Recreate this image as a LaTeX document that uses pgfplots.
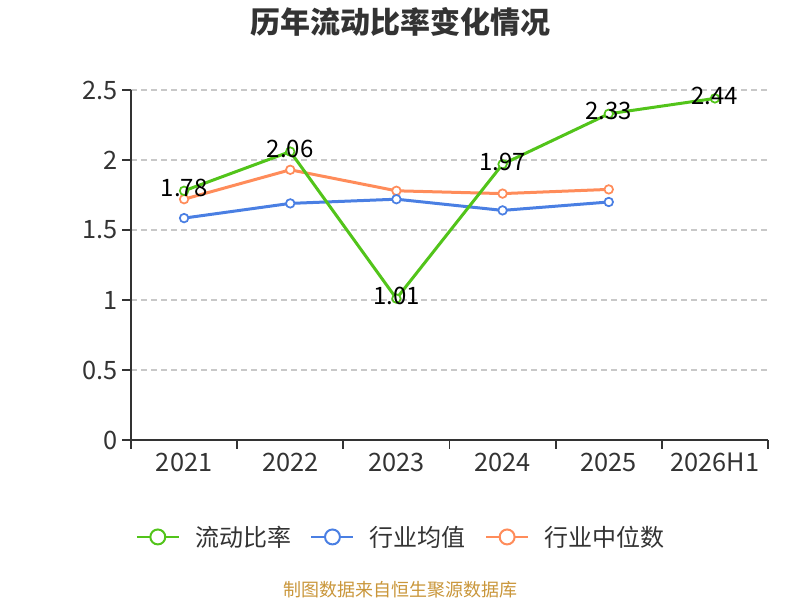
\documentclass[border=0pt]{standalone}
\usepackage{pgfplots}
\pgfplotsset{compat=1.18}
\usepackage{fontspec}
\setmainfont{Noto Sans CJK SC}
\definecolor{cgreen}{HTML}{52C41A}
\definecolor{cblue}{HTML}{4A7FE3}
\definecolor{corange}{HTML}{FF8C5A}
\definecolor{ctext}{HTML}{333333}
\definecolor{csrc}{HTML}{C9963A}
\definecolor{cgrid}{HTML}{C8C8C8}
\begin{document}
\begin{tikzpicture}[x=1pt,y=1pt]
\path[use as bounding box] (0,0) rectangle (600,450);
\node[font=\fontsize{22.5}{26}\selectfont\bfseries, text=ctext] at (300,433.5) {历年流动比率变化情况};
\node[font=\fontsize{13.5}{16}\selectfont, text=csrc] at (300,7.5) {制图数据来自恒生聚源数据库};
\begin{axis}[
  at={(98.25pt,120pt)}, anchor=south west,
  scale only axis, width=477.75pt, height=262.5pt,
  xmin=-0.5, xmax=5.5, ymin=0, ymax=2.5,
  axis x line*=bottom, axis y line*=left,
  axis line style={ctext, line width=1.3pt},
  xtick={0,1,2,3,4,5},
  xticklabels={2021,2022,2023,2024,2025,2026H1},
  minor xtick={-0.5,0.5,1.5,2.5,3.5,4.5,5.5},
  major x tick style={draw=none},
  minor x tick style={ctext, line width=1.3pt},
  minor tick length=6.5pt,
  ytick={0,0.5,1,1.5,2,2.5},
  major y tick style={ctext, line width=1.3pt},
  major tick length=6.5pt,
  tick align=outside,
  ymajorgrids,
  grid style={cgrid, dashed, dash pattern=on 4.5pt off 3pt, line width=0.8pt},
  /pgf/number format/assume math mode=true,
  ticklabel style={font=\fontsize{19}{22}\selectfont, text=ctext},
  clip=false,
]
\addplot[corange, line width=2.25pt, mark=*, mark size=3.2pt, mark options={fill=white, line width=1.3pt}]
 coordinates {(0,1.72) (1,1.93) (2,1.78) (3,1.76) (4,1.79)};
\addplot[cblue, line width=2.25pt, mark=*, mark size=3.2pt, mark options={fill=white, line width=1.3pt}]
 coordinates {(0,1.585) (1,1.69) (2,1.72) (3,1.64) (4,1.70)};
\addplot[cgreen, line width=2.25pt, mark=*, mark size=3.2pt, mark options={fill=white, line width=1.3pt},
  nodes near coords, point meta=explicit symbolic,
  every node near coord/.append style={anchor=center, yshift=2pt, text=black, font=\fontsize{18}{21}\selectfont}]
 coordinates {(0,1.78)[1.78] (1,2.06)[2.06] (2,1.01)[1.01] (3,1.97)[1.97] (4,2.33)[2.33] (5,2.44)[2.44]};
\end{axis}
\begin{axis}[
  at={(98.25pt,120pt)}, anchor=south west,
  scale only axis, width=477.75pt, height=262.5pt,
  xmin=-0.5, xmax=5.5, ymin=0, ymax=2.5,
  hide axis,
  legend style={at={(0.4246,-0.277)}, anchor=center, draw=none, fill=none,
    legend columns=-1, font=\fontsize{18}{21}\selectfont, text=ctext,
    /tikz/every odd column/.append style={column sep=9.5pt},
    /tikz/every even column/.append style={column sep=12.5pt}},
  legend image code/.code={
    \draw[line width=1.5pt] (0pt,0pt) -- (31.5pt,0pt);
    \draw[line width=1.5pt, fill=white] (15.75pt,0pt) circle (5.6pt);
  },
]
\addlegendimage{cgreen}
\addlegendentry{流动比率}
\addlegendimage{cblue}
\addlegendentry{行业均值}
\addlegendimage{corange}
\addlegendentry{行业中位数}
\end{axis}
\end{tikzpicture}
\end{document}
